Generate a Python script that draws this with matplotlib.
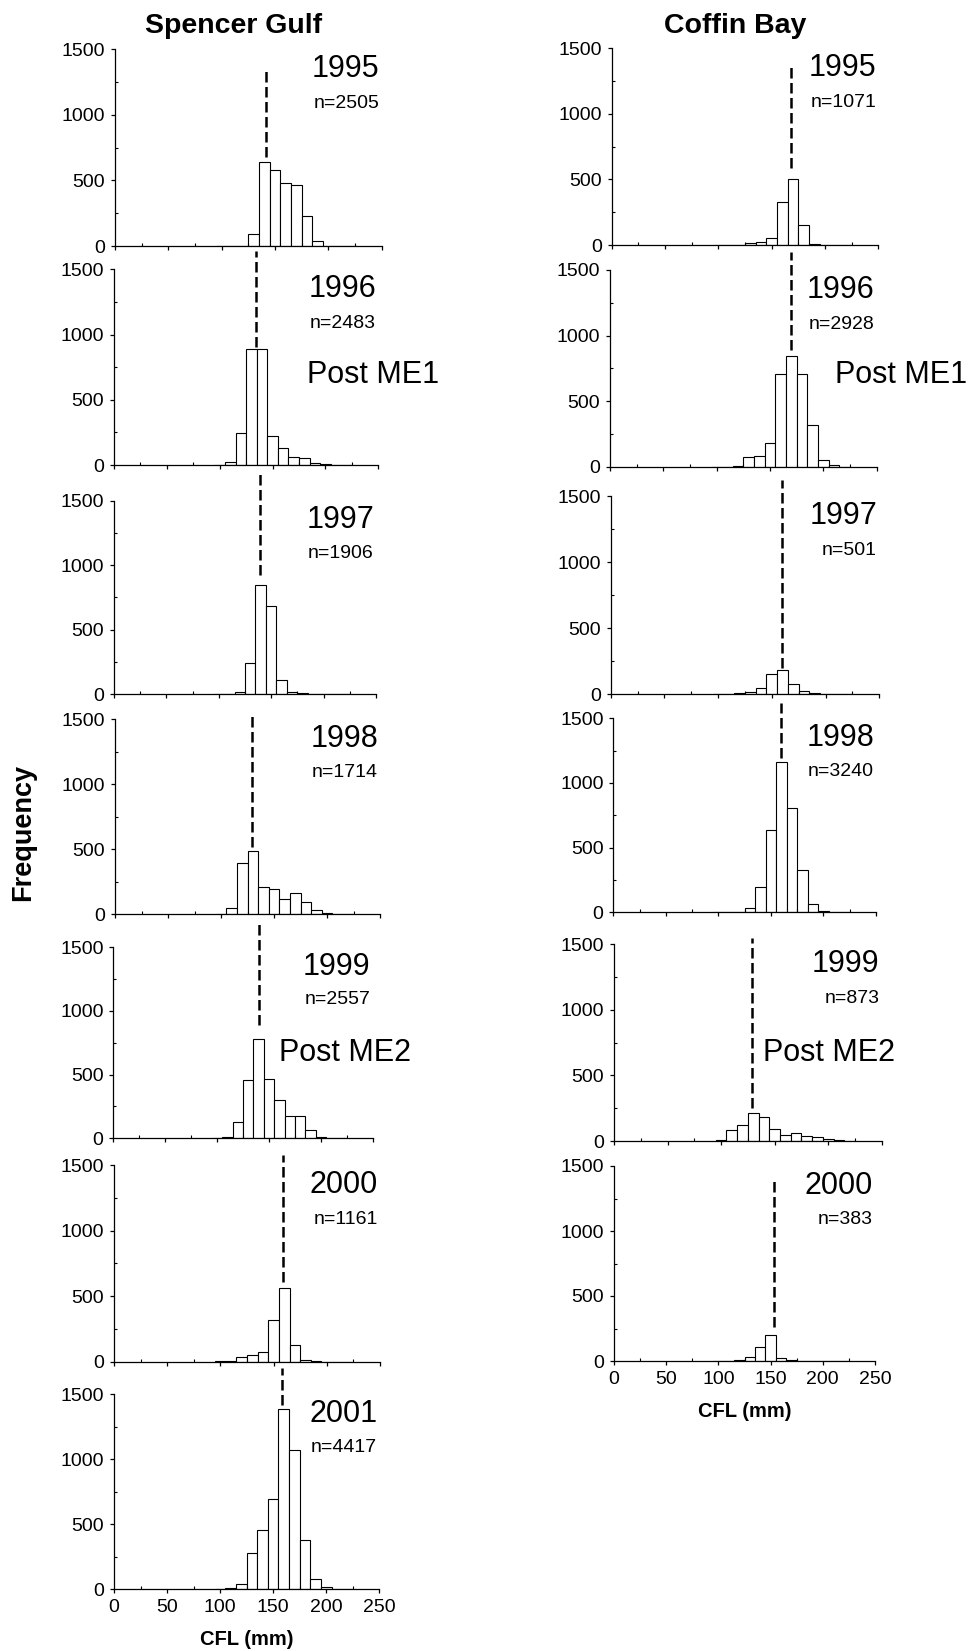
import matplotlib.pyplot as plt
import numpy as np

plt.rcParams['font.family'] = ['Liberation Sans', 'DejaVu Sans']

# bin centres (mm), 10 mm wide
cfl_bins = [100, 110, 120, 130, 140, 150, 160, 170, 180, 190, 200, 210, 220]

years_sg = ['1995', '1996', '1997', '1998', '1999', '2000', '2001']
n_sg = [2505, 2483, 1906, 1714, 2557, 1161, 4417]
sg_1995 = [1, 3, 3, 94, 638, 577, 480, 465, 226, 36, 0, 0, 0]
sg_1996 = [0, 26, 243, 887, 887, 222, 130, 59, 51, 13, 5, 0, 0]
sg_1997 = [0, 0, 15, 243, 844, 682, 111, 15, 8, 0, 0, 0, 0]
sg_1998 = [0, 51, 394, 486, 207, 197, 120, 161, 92, 31, 8, 0, 0]
sg_1999 = [0, 13, 131, 461, 777, 469, 304, 175, 175, 68, 13, 0, 0]
sg_2000 = [2, 3, 36, 51, 71, 315, 559, 127, 13, 3, 0, 0, 0]
sg_2001 = [0, 8, 38, 279, 459, 697, 1387, 1069, 377, 77, 15, 0, 0]
median_sg = [141.3, 134.0, 139.3, 129.2, 140.7, 159.1, 158.0]
line_top_sg = [1368, 1640, 1712, 1556, 1691, 1576, 1702]
line_bot_sg = [681, 907, 924, 519, 890, 610, 1418]

years_cb = ['1995', '1996', '1997', '1998', '1999', '2000']
n_cb = [1071, 2928, 501, 3240, 873, 383]
cb_1995 = [0, 0, 0, 13, 20, 51, 331, 501, 150, 5, 3, 0, 0]
cb_1996 = [0, 0, 8, 71, 84, 178, 704, 842, 704, 315, 51, 10, 0]
cb_1997 = [0, 0, 8, 18, 45, 151, 181, 78, 25, 8, 0, 0, 0]
cb_1998 = [0, 0, 0, 36, 193, 637, 1165, 804, 330, 62, 8, 0, 0]
cb_1999 = [8, 84, 120, 211, 186, 89, 43, 58, 36, 28, 15, 5, 0]
cb_2000 = [0, 0, 10, 30, 105, 200, 25, 8, 0, 0, 0, 0, 0]
median_cb = [168.1, 169.7, 159.7, 159.3, 129.2, 153.7]
line_top_cb = [1373, 1637, 1621, 1616, 1546, 1397]
line_bot_cb = [585, 890, 197, 1191, 249, 259]

counts_sg = [sg_1995, sg_1996, sg_1997, sg_1998, sg_1999, sg_2000, sg_2001]
counts_cb = [cb_1995, cb_1996, cb_1997, cb_1998, cb_1999, cb_2000]

# panel boxes in pixels: left, right, top(1500), bottom(0)
W, H = 973, 1651
box_sg = [(115, 381.7, 49.3, 246), (114, 378.3, 269.3, 465), (114, 376, 500.7, 694.3),
          (115, 380, 719, 914.3), (113.3, 372.7, 947.3, 1138.3), (114, 380, 1165, 1361.7),
          (114, 379.3, 1394.3, 1589.3)]
box_cb = [(611.7, 878.3, 48.3, 245), (610, 876.7, 270, 466.7), (610.7, 879.3, 496, 694.3),
          (613.3, 876, 718.3, 912.3), (614, 881.7, 944.3, 1141), (614, 875, 1166, 1361)]

# "Post ME" notes: (column, panel index, x, y, text)
notes = [('sg', 1, 183, 690, 'Post ME1'), ('cb', 1, 211, 699, 'Post ME1'),
         ('sg', 4, 160, 667, 'Post ME2'), ('cb', 4, 139, 669, 'Post ME2')]

fig = plt.figure(figsize=(W / 100, H / 100), dpi=100)


def panel(box, counts, year, n, med, ytop, ybot, last):
    l, r, t, b = box
    ax = fig.add_axes([l / W, 1 - b / H, (r - l) / W, (b - t) / H])
    ax.bar(cfl_bins, counts, width=10, color='white', edgecolor='black', linewidth=0.8)
    ax.plot([med, med], [ybot, ytop], color='black', lw=1.8, dashes=(4.2, 1.8),
            clip_on=False, zorder=5)
    ax.set_xlim(0, 250)
    ax.set_ylim(0, 1500)
    ax.set_xticks(np.arange(0, 251, 50))
    ax.set_xticks(np.arange(25, 250, 50), minor=True)
    ax.set_yticks([0, 500, 1000, 1500])
    ax.set_yticks([250, 750, 1250], minor=True)
    for s in ['top', 'right']:
        ax.spines[s].set_visible(False)
    for s in ['left', 'bottom']:
        ax.spines[s].set_linewidth(0.9)
    ax.tick_params(which='major', direction='out', length=3, width=0.9, labelsize=14, pad=4)
    ax.tick_params(which='minor', direction='in', length=2, width=0.8)
    if not last:
        ax.set_xticklabels([])
    ax.text(248, 1347, year, ha='right', va='center', fontsize=22)
    ax.text(248, 1088, 'n=%d' % n, ha='right', va='center', fontsize=14)
    return ax


axes_sg = []
for i in range(len(years_sg)):
    axes_sg.append(panel(box_sg[i], counts_sg[i], years_sg[i], n_sg[i], median_sg[i],
                         line_top_sg[i], line_bot_sg[i], i == len(years_sg) - 1))
axes_cb = []
for i in range(len(years_cb)):
    axes_cb.append(panel(box_cb[i], counts_cb[i], years_cb[i], n_cb[i], median_cb[i],
                         line_top_cb[i], line_bot_cb[i], i == len(years_cb) - 1))

for col, i, x, y, txt in notes:
    ax = axes_sg[i] if col == 'sg' else axes_cb[i]
    ax.text(x, y, txt, ha='left', va='center', fontsize=22, clip_on=False)

axes_sg[-1].set_xlabel('CFL (mm)', fontsize=14.5, fontweight='bold', labelpad=10)
axes_cb[-1].set_xlabel('CFL (mm)', fontsize=14.5, fontweight='bold', labelpad=10)

fig.text(233.8 / W, 1 - 26.3 / H, 'Spencer Gulf', ha='center', va='center',
         fontsize=20.5, fontweight='bold')
fig.text(735 / W, 1 - 26.3 / H, 'Coffin Bay', ha='center', va='center',
         fontsize=20.5, fontweight='bold')
fig.text(23 / W, 1 - 832 / H, 'Frequency', ha='center', va='center', rotation=90,
         fontsize=19.5, fontweight='bold')

fig.savefig('out.png', dpi=100)
